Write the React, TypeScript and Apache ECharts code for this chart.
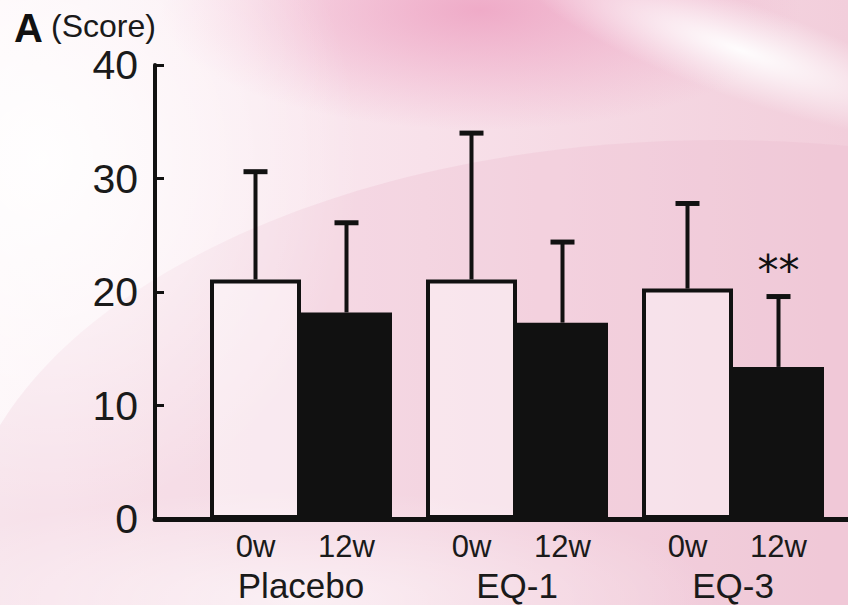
import React, { useEffect, useRef } from 'react';
import * as echarts from 'echarts';

// ---- data ----
const groups = ['Placebo', 'EQ-1', 'EQ-3'];
const timepoints = ['0w', '12w'];
const week0Mean = [21.1, 21.1, 20.3];
const week0Err = [9.5, 12.9, 7.5];
const week12Mean = [18.2, 17.3, 13.4];
const week12Err = [7.9, 7.1, 6.2];
const week12Sig = ['', '', '**'];
const yMin = 0;
const yMax = 40;
const yStep = 10;
const panelLabel = 'A';
const yAxisTitle = '(Score)';

const FONT = '"Liberation Sans", Arial, Helvetica, sans-serif';
const BAR_W = 91;
const INK = '#111111';

function errorSeries(name: string, means: number[], errs: number[], side: number, sig?: string[]) {
  return {
    type: 'custom',
    name,
    z: 5,
    data: means.map((m, i) => [i, m, errs[i]]),
    renderItem: (params: any, api: any) => {
      const i = api.value(0);
      const m = api.value(1);
      const e = api.value(2);
      const base = api.coord([i, m]);
      const top = api.coord([i, m + e]);
      const x = base[0] + (side * BAR_W) / 2;
      const children: any[] = [
        { type: 'line', shape: { x1: x, y1: base[1], x2: x, y2: top[1] }, style: { stroke: INK, lineWidth: 4 } },
        { type: 'line', shape: { x1: x - 12, y1: top[1], x2: x + 12, y2: top[1] }, style: { stroke: INK, lineWidth: 5 } },
      ];
      const s = sig ? sig[params.dataIndex] : '';
      if (s) {
        children.push({
          type: 'text',
          x,
          y: top[1] - 26,
          style: {
            text: s,
            font: `42px "DejaVu Sans", sans-serif`,
            fill: INK,
            textAlign: 'center',
            textVerticalAlign: 'middle',
          },
        });
      }
      return { type: 'group', children };
    },
  };
}

function radial(inner: string, outer: string) {
  return {
    type: 'radial', x: 0.5, y: 0.5, r: 0.5,
    colorStops: [
      { offset: 0, color: inner },
      { offset: 1, color: outer },
    ],
  };
}

export default function App() {
  const ref = useRef<HTMLDivElement>(null);

  useEffect(() => {
    if (!ref.current) return;
    const chart = echarts.init(ref.current, undefined, { renderer: 'svg' });
    const option: any = {
      animation: false,
      backgroundColor: '#f8e6ee',
      graphic: {
        elements: [
          // soft background decoration
          { type: 'rect', z: -20, shape: { x: 0, y: 0, width: 848, height: 605 },
            style: { fill: { type: 'linear', x: 0, y: 0, x2: 1, y2: 0, colorStops: [
              { offset: 0, color: '#fdf5f8' }, { offset: 0.5, color: '#f8e1ea' }, { offset: 1, color: '#f2cedb' } ] } } },
          { type: 'ellipse', z: -19, shape: { cx: 720, cy: 560, rx: 760, ry: 420 },
            style: { fill: 'rgba(236,186,205,0.30)' } },
          { type: 'ellipse', z: -18, shape: { cx: 480, cy: 10, rx: 320, ry: 120 },
            style: { fill: radial('rgba(238,165,196,0.9)', 'rgba(238,165,196,0)') } },
          { type: 'ellipse', z: -17, x: 740, y: 50, rotation: -0.34, shape: { cx: 0, cy: 0, rx: 230, ry: 48 },
            style: { fill: radial('rgba(255,255,255,0.95)', 'rgba(255,255,255,0)') } },
          { type: 'ellipse', z: -17, shape: { cx: 40, cy: 160, rx: 320, ry: 360 },
            style: { fill: radial('rgba(255,255,255,0.9)', 'rgba(255,255,255,0)') } },
          { type: 'ellipse', z: -17, shape: { cx: 300, cy: 600, rx: 420, ry: 110 },
            style: { fill: radial('rgba(255,255,255,0.6)', 'rgba(255,255,255,0)') } },
          // panel title
          { type: 'text', z: 10, x: 14, y: 28,
            style: { text: panelLabel, font: `bold 40px ${FONT}`, fill: INK, textVerticalAlign: 'middle' } },
          { type: 'text', z: 10, x: 51, y: 26,
            style: { text: yAxisTitle, font: `32px ${FONT}`, fill: '#1a1a1a', textVerticalAlign: 'middle' } },
        ],
      },
      grid: [
        { left: 193, right: 7, top: 65, bottom: 86 },
        { left: 155, right: 0, top: 65, bottom: 86 },
      ],
      xAxis: [
        {
          type: 'category',
          gridIndex: 0,
          data: groups,
          axisLine: { show: false },
          axisTick: { show: false },
          axisLabel: {
            interval: 0,
            margin: 9,
            formatter: (v: string) => `{t|${timepoints[0]}}{t|${timepoints[1]}}\n{g|${v}}`,
            rich: {
              t: { width: BAR_W, align: 'center', fontSize: 31, lineHeight: 36, fontFamily: FONT, color: '#1a1a1a' },
              g: { align: 'center', fontSize: 35, lineHeight: 42, fontFamily: FONT, color: '#1a1a1a' },
            },
          },
        },
        {
          type: 'value',
          gridIndex: 1,
          min: 0,
          max: 1,
          axisLine: { show: true, lineStyle: { color: INK, width: 5 } },
          axisTick: { show: false },
          axisLabel: { show: false },
          splitLine: { show: false },
        },
      ],
      yAxis: [
        {
          type: 'value',
          gridIndex: 0,
          min: yMin,
          max: yMax,
          interval: yStep,
          offset: 38,
          axisLine: { show: true, lineStyle: { color: INK, width: 4 } },
          axisTick: { show: true, inside: true, length: 9, lineStyle: { color: INK, width: 3 } },
          axisLabel: { fontSize: 41, color: '#1a1a1a', fontFamily: FONT, margin: 17, padding: [8, 0, 0, 0] },
          splitLine: { show: false },
        },
        { type: 'value', gridIndex: 1, show: false, min: 0, max: 1 },
      ],
      series: [
        {
          type: 'bar',
          name: timepoints[0],
          xAxisIndex: 0,
          yAxisIndex: 0,
          data: week0Mean,
          barWidth: BAR_W,
          barGap: '0%',
          z: 3,
          itemStyle: { color: 'rgba(255,255,255,0.42)', borderColor: INK, borderWidth: 4 },
        },
        {
          type: 'bar',
          name: timepoints[1],
          xAxisIndex: 0,
          yAxisIndex: 0,
          data: week12Mean,
          barWidth: BAR_W,
          barGap: '0%',
          z: 3,
          itemStyle: { color: INK },
        },
        { ...errorSeries('0w error', week0Mean, week0Err, -1), xAxisIndex: 0, yAxisIndex: 0 },
        { ...errorSeries('12w error', week12Mean, week12Err, 1, week12Sig), xAxisIndex: 0, yAxisIndex: 0 },
      ],
    };
    chart.setOption(option);
    return () => chart.dispose();
  }, []);

  return (
    <div
      ref={ref}
      style={{ position: 'absolute', left: 0, top: 0, width: 848, height: 605 }}
    />
  );
}
